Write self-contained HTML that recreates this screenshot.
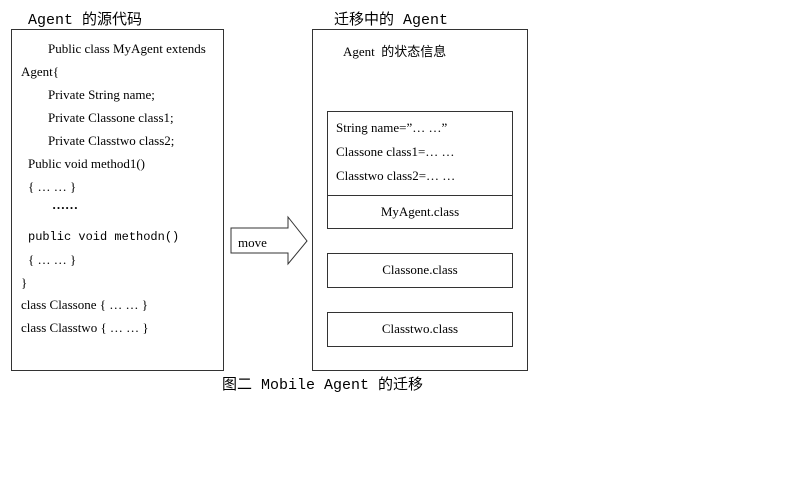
<!DOCTYPE html>
<html><head><meta charset="utf-8"><style>
body{margin:0;width:800px;height:483px;background:#fff;position:relative;overflow:hidden;font-family:"Liberation Serif","Noto Serif CJK SC",serif;color:#000}
.a{position:absolute;white-space:nowrap}
.b{position:absolute;border:1px solid #333;box-sizing:border-box}
.m{font-family:"Liberation Mono","Noto Sans CJK SC",monospace}
.t{font-size:13px}
</style></head><body>
<div class="a m" style="left:28px;top:8px;font-size:15px">Agent 的源代码</div>
<div class="a m" style="left:334px;top:8px;font-size:15px">迁移中的 Agent</div>
<div class="b" style="left:11px;top:29px;width:213px;height:342px"></div>
<div class="a t" style="left:48px;top:41px">Public class MyAgent extends</div>
<div class="a t" style="left:21px;top:64px">Agent{</div>
<div class="a t" style="left:48px;top:87px">Private String name;</div>
<div class="a t" style="left:48px;top:110px">Private Classone class1;</div>
<div class="a t" style="left:48px;top:133px">Private Classtwo class2;</div>
<div class="a t" style="left:28px;top:156px">Public void method1()</div>
<div class="a t" style="left:28px;top:179px">{ … … }</div>
<div class="a t" style="left:52px;top:197px;font-weight:bold">……</div>
<div class="a t m" style="left:28px;top:230px;font-size:12px">public void methodn()</div>
<div class="a t" style="left:28px;top:252px">{ … … }</div>
<div class="a t" style="left:21px;top:275px">}</div>
<div class="a t" style="left:21px;top:297px">class Classone { … … }</div>
<div class="a t" style="left:21px;top:320px">class Classtwo { … … }</div>
<svg class="a" style="left:0;top:0" width="800" height="483">
<polygon points="231,228 288,228 288,217 307,241 288,264 288,253 231,253" fill="#fff" stroke="#333" stroke-width="1"/>
</svg>
<div class="a t" style="left:238px;top:235px">move</div>
<div class="b" style="left:312px;top:29px;width:216px;height:342px"></div>
<div class="a t" style="left:343px;top:41px;font-family:'Liberation Serif','Noto Sans CJK SC',serif">Agent &nbsp;的状态信息</div>
<div class="b" style="left:327px;top:111px;width:186px;height:118px"></div>
<div class="b" style="left:327px;top:195px;width:186px;height:1px;border-width:1px 0 0 0"></div>
<div class="a t" style="left:336px;top:120px">String name=”… …”</div>
<div class="a t" style="left:336px;top:144px">Classone class1=… …</div>
<div class="a t" style="left:336px;top:168px">Classtwo class2=… …</div>
<div class="a t" style="left:327px;top:204px;width:186px;text-align:center">MyAgent.class</div>
<div class="b" style="left:327px;top:253px;width:186px;height:35px"></div>
<div class="a t" style="left:327px;top:262px;width:186px;text-align:center">Classone.class</div>
<div class="b" style="left:327px;top:312px;width:186px;height:35px"></div>
<div class="a t" style="left:327px;top:321px;width:186px;text-align:center">Classtwo.class</div>
<div class="a m" style="left:222px;top:373px;font-size:15px">图二 Mobile Agent 的迁移</div>
</body></html>
